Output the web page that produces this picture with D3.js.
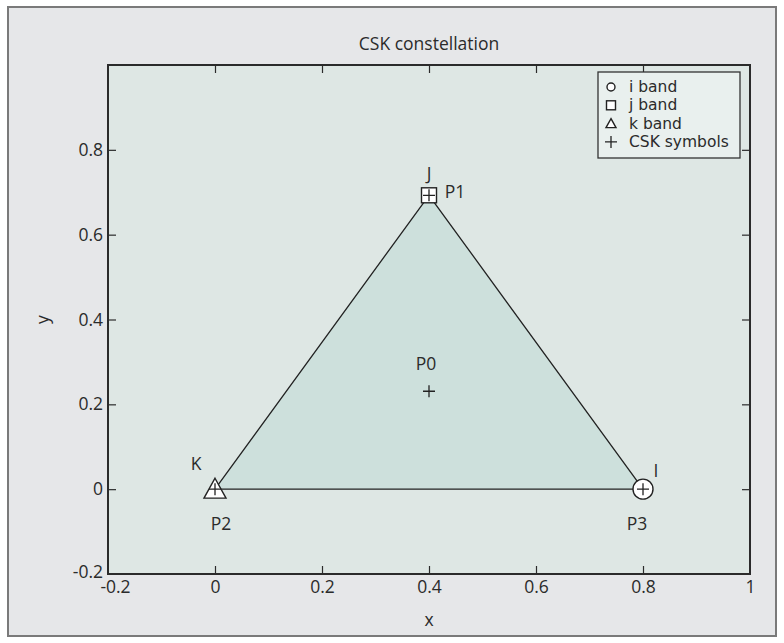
<!DOCTYPE html>
<html>
<head>
<meta charset="utf-8">
<script src="https://cdn.jsdelivr.net/npm/d3@7"></script>
<style>
  html, body { margin: 0; padding: 0; background: #ffffff; }
  svg { display: block; }
  text { font-family: "Open Sans", "Noto Sans", sans-serif; fill: #2b2b2b; }
</style>
</head>
<body>
<svg id="chart" width="784" height="643"></svg>
<script>
// Constellation points (x, y)
const pointNames = ["P0", "P1", "P2", "P3"];
const pointX = [0.4, 0.4, 0.0, 0.8];
const pointY = [0.2309, 0.6928, 0.0, 0.0];

// Band letters and the constellation point each belongs to
const bandNames = ["i band", "j band", "k band"];
const bandLetters = ["I", "J", "K"];
const bandPoints = ["P3", "P1", "P2"];
const bandSymbols = ["circle", "square", "triangle"];

const legendLabels = ["i band", "j band", "k band", "CSK symbols"];
const legendSymbols = ["circle", "square", "triangle", "plus"];

const xTicks = [-0.2, 0, 0.2, 0.4, 0.6, 0.8, 1];
const yTicks = [-0.2, 0, 0.2, 0.4, 0.6, 0.8];
const xDomain = [-0.2, 1];
const yDomain = [-0.2, 1];

const W = 784, H = 643;
const m = { left: 108, right: 750, top: 65, bottom: 574 };
const FS = 17.5;

const svg = d3.select("#chart");

// figure background and frame
svg.append("rect").attr("x", 0).attr("y", 0).attr("width", W).attr("height", H).attr("fill", "#ffffff");
svg.append("rect").attr("x", 8).attr("y", 7).attr("width", 768).attr("height", 629)
  .attr("fill", "#e6e7e9").attr("stroke", "#7a7a7a").attr("stroke-width", 2);

const x = d3.scaleLinear().domain(xDomain).range([m.left, m.right]);
const y = d3.scaleLinear().domain(yDomain).range([m.bottom, m.top]);

// plot area
svg.append("rect").attr("x", m.left).attr("y", m.top)
  .attr("width", m.right - m.left).attr("height", m.bottom - m.top)
  .attr("fill", "#dee7e4");

const fmt = d => (d === 0 ? "0" : d === 1 ? "1" : d.toFixed(1));
const tickLen = 8;

// axes with inward ticks on all four sides
const gB = svg.append("g").attr("transform", `translate(0,${m.bottom})`)
  .call(d3.axisBottom(x).tickValues(xTicks).tickFormat(fmt).tickSizeInner(-tickLen).tickSizeOuter(0).tickPadding(7));
const gT = svg.append("g").attr("transform", `translate(0,${m.top})`)
  .call(d3.axisTop(x).tickValues(xTicks).tickFormat("").tickSizeInner(-tickLen).tickSizeOuter(0));
const gL = svg.append("g").attr("transform", `translate(${m.left},0)`)
  .call(d3.axisLeft(y).tickValues(yTicks).tickFormat(fmt).tickSizeInner(-tickLen).tickSizeOuter(0).tickPadding(5));
const gR = svg.append("g").attr("transform", `translate(${m.right},0)`)
  .call(d3.axisRight(y).tickValues(yTicks).tickFormat("").tickSizeInner(-tickLen).tickSizeOuter(0));
[gB, gT, gL, gR].forEach(g => {
  g.select(".domain").remove();
  g.selectAll(".tick line").attr("stroke", "#2b2b2b").attr("stroke-width", 1.2);
  g.selectAll(".tick text").attr("font-size", FS).attr("fill", "#2b2b2b")
    .style("font-family", '"Open Sans", "Noto Sans", sans-serif');
});
// no tick marks at the plot corners
[gB, gT].forEach(g => g.selectAll(".tick").filter(d => d === -0.2 || d === 1).select("line").remove());
[gL, gR].forEach(g => g.selectAll(".tick").filter(d => d === -0.2).select("line").remove());
// keep the two corner labels apart
gB.selectAll(".tick").filter(d => d === -0.2).select("text").attr("dx", 7);
gL.selectAll(".tick").filter(d => d === -0.2).select("text").attr("dy", "0.2em");

// triangle region
const pt = name => { const i = pointNames.indexOf(name); return [x(pointX[i]), y(pointY[i])]; };
svg.append("path")
  .attr("d", d3.line()([pt("P1"), pt("P2"), pt("P3")]) + "Z")
  .attr("fill", "#cde0dc").attr("stroke", "#222").attr("stroke-width", 1.3);

// plot frame
svg.append("rect").attr("x", m.left).attr("y", m.top)
  .attr("width", m.right - m.left).attr("height", m.bottom - m.top)
  .attr("fill", "none").attr("stroke", "#2b2b2b").attr("stroke-width", 2);

// marker drawing
function drawSymbol(g, kind, cx, cy, s) {
  if (kind === "circle") {
    g.append("circle").attr("cx", cx).attr("cy", cy).attr("r", s / 2)
      .attr("fill", "#ffffff").attr("stroke", "#222").attr("stroke-width", 1.4);
  } else if (kind === "square") {
    g.append("rect").attr("x", cx - s / 2).attr("y", cy - s / 2).attr("width", s).attr("height", s)
      .attr("fill", "#ffffff").attr("stroke", "#222").attr("stroke-width", 1.4);
  } else if (kind === "triangle") {
    const h = s * 0.9;
    g.append("path")
      .attr("d", `M${cx},${cy - h * 0.55}L${cx + s / 2},${cy + h * 0.45}L${cx - s / 2},${cy + h * 0.45}Z`)
      .attr("fill", "#ffffff").attr("stroke", "#222").attr("stroke-width", 1.4);
  } else if (kind === "plus") {
    g.append("path")
      .attr("d", `M${cx - s / 2},${cy}H${cx + s / 2}M${cx},${cy - s / 2}V${cy + s / 2}`)
      .attr("fill", "none").attr("stroke", "#222").attr("stroke-width", 1.3);
  }
}

// band markers at their constellation points
const sizes = { circle: 20, square: 15, triangle: 22 };
bandNames.forEach((b, i) => {
  const [cx, cy] = pt(bandPoints[i]);
  drawSymbol(svg, bandSymbols[i], cx, cy, sizes[bandSymbols[i]]);
});

// CSK symbols
pointNames.forEach((n, i) => drawSymbol(svg, "plus", x(pointX[i]), y(pointY[i]), 12));

// labels for the points
const pointLabelOffset = { P0: [-3, -28], P1: [26, -4], P2: [6, 34], P3: [-6, 34] };
pointNames.forEach((n, i) => {
  const [dx, dy] = pointLabelOffset[n];
  svg.append("text").attr("x", x(pointX[i]) + dx).attr("y", y(pointY[i]) + dy)
    .attr("text-anchor", "middle").attr("dominant-baseline", "central")
    .attr("font-size", FS).text(n);
});
const bandLabelOffset = { I: [13, -19], J: [0, -22], K: [-19, -26] };
bandLetters.forEach((l, i) => {
  const [cx, cy] = pt(bandPoints[i]);
  const [dx, dy] = bandLabelOffset[l];
  svg.append("text").attr("x", cx + dx).attr("y", cy + dy)
    .attr("text-anchor", "middle").attr("dominant-baseline", "central")
    .attr("font-size", FS).text(l);
});

// title and axis labels
svg.append("text").attr("x", (m.left + m.right) / 2).attr("y", 43)
  .attr("text-anchor", "middle").attr("dominant-baseline", "central")
  .attr("font-size", FS).text("CSK constellation");
svg.append("text").attr("x", (m.left + m.right) / 2).attr("y", 619)
  .attr("text-anchor", "middle").attr("dominant-baseline", "central")
  .attr("font-size", FS).text("x");
svg.append("text").attr("transform", `translate(42,${(m.top + m.bottom) / 2}) rotate(-90)`)
  .attr("text-anchor", "middle").attr("dominant-baseline", "central")
  .attr("font-size", FS).text("y");

// legend
const lg = svg.append("g");
lg.append("rect").attr("x", 598).attr("y", 72).attr("width", 142).attr("height", 86)
  .attr("fill", "#e9f0ee").attr("stroke", "#333").attr("stroke-width", 1.3);
const legendSizes = { circle: 8, square: 9, triangle: 10, plus: 12 };
legendLabels.forEach((lab, i) => {
  const cy = 87 + i * 18.3;
  drawSymbol(lg, legendSymbols[i], 611, cy, legendSizes[legendSymbols[i]]);
  lg.append("text").attr("x", 629).attr("y", cy).attr("dominant-baseline", "central")
    .attr("font-size", 15.5).style("font-family", '"DejaVu Sans", sans-serif').text(lab);
});
</script>
</body>
</html>
